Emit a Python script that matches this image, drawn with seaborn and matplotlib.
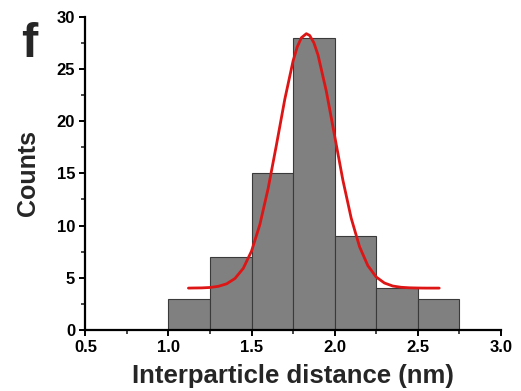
import matplotlib
matplotlib.use("Agg")
import matplotlib.pyplot as plt
from matplotlib.ticker import MultipleLocator, FormatStrFormatter
import seaborn as sns
import numpy as np

# Histogram data
bin_edges = [1.0, 1.25, 1.5, 1.75, 2.0, 2.25, 2.5, 2.75]
bin_centers = [1.125, 1.375, 1.625, 1.875, 2.125, 2.375, 2.625]
counts = [3, 7, 15, 28, 9, 4, 3]

# Fitted curve, points
curve_x = [1.12, 1.15, 1.20, 1.25, 1.30, 1.35, 1.40, 1.45, 1.50, 1.55, 1.60,
           1.65, 1.70, 1.75, 1.775, 1.80, 1.83, 1.85, 1.875, 1.90, 1.95, 2.00,
           2.05, 2.10, 2.15, 2.20, 2.25, 2.30, 2.35, 2.40, 2.45, 2.50, 2.55, 2.63]
curve_y = [4.00, 4.01, 4.02, 4.06, 4.17, 4.41, 4.92, 5.89, 7.55, 10.09, 13.56,
           17.74, 22.09, 25.78, 27.13, 28.01, 28.40, 28.23, 27.54, 26.37, 22.90, 18.62,
           14.35, 10.71, 7.98, 6.16, 5.07, 4.49, 4.20, 4.08, 4.03, 4.01, 4.00, 4.00]

sns.set_style("ticks")
plt.rcParams['font.family'] = ['Liberation Sans', 'DejaVu Sans']

fig = plt.figure(figsize=(5.21, 3.91), dpi=100)
ax = fig.add_axes([0.164, 0.1565, 0.797, 0.800])

sns.histplot(x=bin_centers, weights=counts, bins=bin_edges, ax=ax,
             color="#808080", edgecolor="#3a3a3a", linewidth=0.8, alpha=1.0)
sns.lineplot(x=curve_x, y=curve_y, ax=ax, color="#dd1515", linewidth=2.0)

ax.set_xlim(0.5, 3.0)
ax.set_ylim(0, 30)
ax.xaxis.set_major_locator(MultipleLocator(0.5))
ax.xaxis.set_minor_locator(MultipleLocator(0.25))
ax.xaxis.set_major_formatter(FormatStrFormatter('%.1f'))
ax.yaxis.set_major_locator(MultipleLocator(5))
ax.yaxis.set_minor_locator(MultipleLocator(2.5))

for s in ['top', 'right']:
    ax.spines[s].set_visible(False)
for s in ['left', 'bottom']:
    ax.spines[s].set_linewidth(1.6)
    ax.spines[s].set_color('black')

ax.tick_params(which='major', direction='out', length=4.5, width=1.4, labelsize=12, pad=3, colors='black')
ax.tick_params(which='minor', direction='out', length=2.8, width=1.2)
for lab in ax.get_xticklabels() + ax.get_yticklabels():
    lab.set_fontweight('bold')

ax.set_xlabel("Interparticle distance (nm)", fontsize=18.5, fontweight='bold', labelpad=6)
ax.set_ylabel("Counts", fontsize=18, fontweight='bold', labelpad=12)

fig.text(0.040, 0.853, "f", fontsize=35, fontweight='bold', ha='left', va='baseline')

fig.savefig("out.png", dpi=100)
